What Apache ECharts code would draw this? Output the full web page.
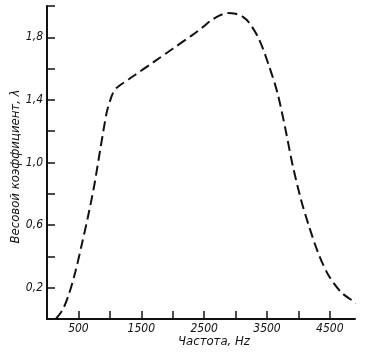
<!DOCTYPE html>
<html>
<head>
<meta charset="utf-8">
<script src="https://cdn.jsdelivr.net/npm/echarts@6/dist/echarts.min.js"></script>
<style>html,body{margin:0;padding:0;background:#fff}#c{width:380px;height:357px}</style>
</head>
<body>
<div id="c"></div>
<script>
var freq = [140, 250, 350, 450, 550, 650, 750, 850, 950, 1000, 1050, 1110, 1400, 1700, 2000, 2300, 2450, 2600, 2750, 2870, 3000, 3100, 3217, 3376, 3534, 3666, 3800, 3904, 4036, 4168, 4326, 4485, 4696, 4960];
var weight = [0.0, 0.06, 0.16, 0.30, 0.47, 0.65, 0.85, 1.09, 1.32, 1.39, 1.445, 1.478, 1.559, 1.643, 1.727, 1.811, 1.855, 1.905, 1.94, 1.955, 1.95, 1.935, 1.893, 1.786, 1.615, 1.445, 1.20, 0.99, 0.77, 0.593, 0.41, 0.275, 0.165, 0.093];
var xTicks = [500, 1000, 1500, 2000, 2500, 3000, 3500, 4000, 4500];
var xLabels = [500, 1500, 2500, 3500, 4500];
var yTicks = [0.2, 0.4, 0.6, 0.8, 1.0, 1.2, 1.4, 1.6, 1.8, 2.0];
var yLabels = [0.2, 0.6, 1.0, 1.4, 1.8];
var xName = 'Частота, Hz';
var yName = 'Весовой коэффициент, λ';

var font = '"Liberation Sans Narrow", "DejaVu Sans Condensed", "Liberation Sans", sans-serif';
var chart = echarts.init(document.getElementById('c'), null, {renderer: 'canvas'});
chart.setOption({
  animation: false,
  backgroundColor: '#fff',
  grid: {left: 47, right: 25, top: 6, bottom: 38, outerBoundsMode: 'none', containLabel: false},
  xAxis: {
    type: 'value', min: 0, max: 4900,
    name: xName, nameLocation: 'middle', nameGap: 16, nameMoveOverlap: false,
    nameTextStyle: {fontFamily: font, fontStyle: 'italic', fontSize: 13, color: '#111', padding: [0, 0, 0, 26]},
    axisLine: {show: true, lineStyle: {color: '#111', width: 2}},
    axisTick: {show: true, inside: true, length: 8, lineStyle: {color: '#111', width: 1.5}, customValues: xTicks},
    axisLabel: {customValues: xLabels, fontFamily: font, fontStyle: 'italic', fontSize: 12, color: '#111', margin: 4,
      formatter: function (v) { return String(v); }},
    splitLine: {show: false}
  },
  yAxis: {
    type: 'value', min: 0, max: 2.0,
    name: yName, nameLocation: 'middle', nameGap: 25, nameRotate: 90, nameMoveOverlap: false,
    nameTextStyle: {fontFamily: font, fontStyle: 'italic', fontSize: 13, color: '#111', padding: [0, 8, 0, 0]},
    axisLine: {show: true, lineStyle: {color: '#111', width: 2}},
    axisTick: {show: true, inside: true, length: 8, lineStyle: {color: '#111', width: 1.5}, customValues: yTicks},
    axisLabel: {customValues: yLabels, fontFamily: font, fontStyle: 'italic', fontSize: 12, color: '#111', margin: 4,
      formatter: function (v) { return v.toFixed(1).replace('.', ','); }},
    splitLine: {show: false}
  },
  series: [{
    type: 'line',
    data: freq.map(function (f, i) { return [f, weight[i]]; }),
    smooth: 0.3,
    clip: false,
    symbol: 'none',
    lineStyle: {color: '#111', width: 2, type: [10, 5]}
  }]
});
</script>
</body>
</html>
